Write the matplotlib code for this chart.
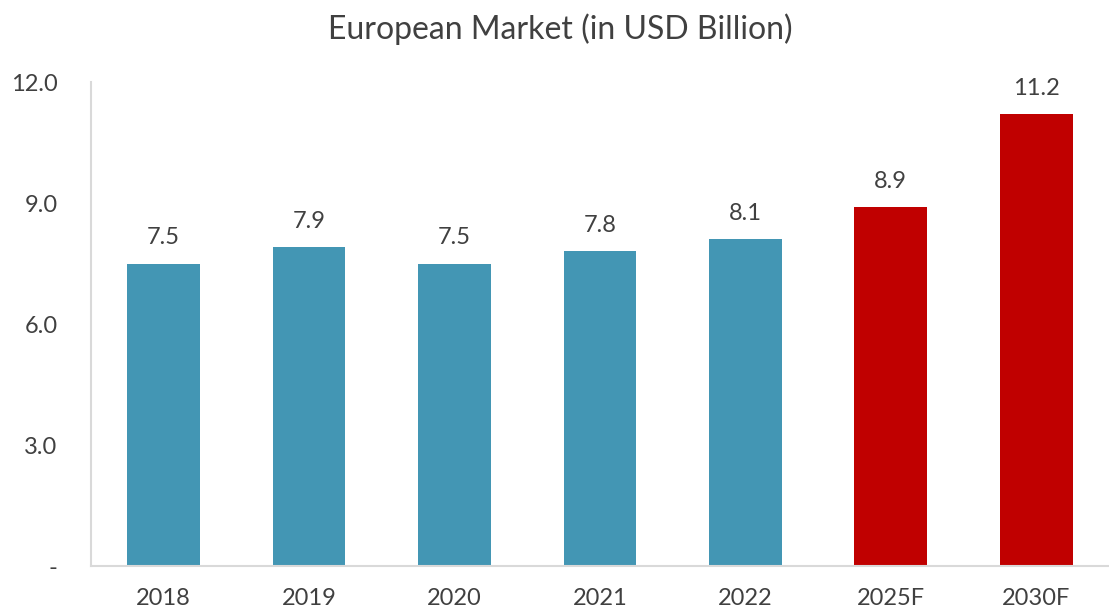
import matplotlib.pyplot as plt

years = ["2018", "2019", "2020", "2021", "2022", "2025F", "2030F"]
values = [7.5, 7.9, 7.5, 7.8, 8.1, 8.9, 11.2]
colors = ["#4396B4"] * 5 + ["#C00000"] * 2

plt.rcParams["font.family"] = ["Lato", "DejaVu Sans"]
text_color = "#404040"

fig = plt.figure(figsize=(11.09, 6.12), dpi=100)
ax = fig.add_axes([0.082, 0.075, 0.918, 0.791])

x = range(len(years))
bars = ax.bar(x, values, width=0.5, color=colors)

for xi, v in zip(x, values):
    ax.text(xi, v + 0.38, f"{v:.1f}", ha="center", va="bottom",
            fontsize=17, color=text_color)

ax.set_xlim(-0.5, 6.5)
ax.set_ylim(0, 12)
ax.set_xticks(list(x))
ax.set_xticklabels(years, fontsize=17, color=text_color)
ax.set_yticks([0, 3, 6, 9, 12])
ax.set_yticklabels(["-", "3.0", "6.0", "9.0", "12.0"], fontsize=17, color=text_color)
ax.tick_params(length=0)
ax.tick_params(axis="x", pad=16)
ax.tick_params(axis="y", pad=24)

for side in ["top", "right"]:
    ax.spines[side].set_visible(False)
for side in ["left", "bottom"]:
    ax.spines[side].set_color("#D9D9D9")
    ax.spines[side].set_linewidth(1.5)

fig.text(0.505, 0.953, "European Market (in USD Billion)", ha="center", va="center",
         fontsize=23, color=text_color)

plt.savefig("out.png", dpi=100)
